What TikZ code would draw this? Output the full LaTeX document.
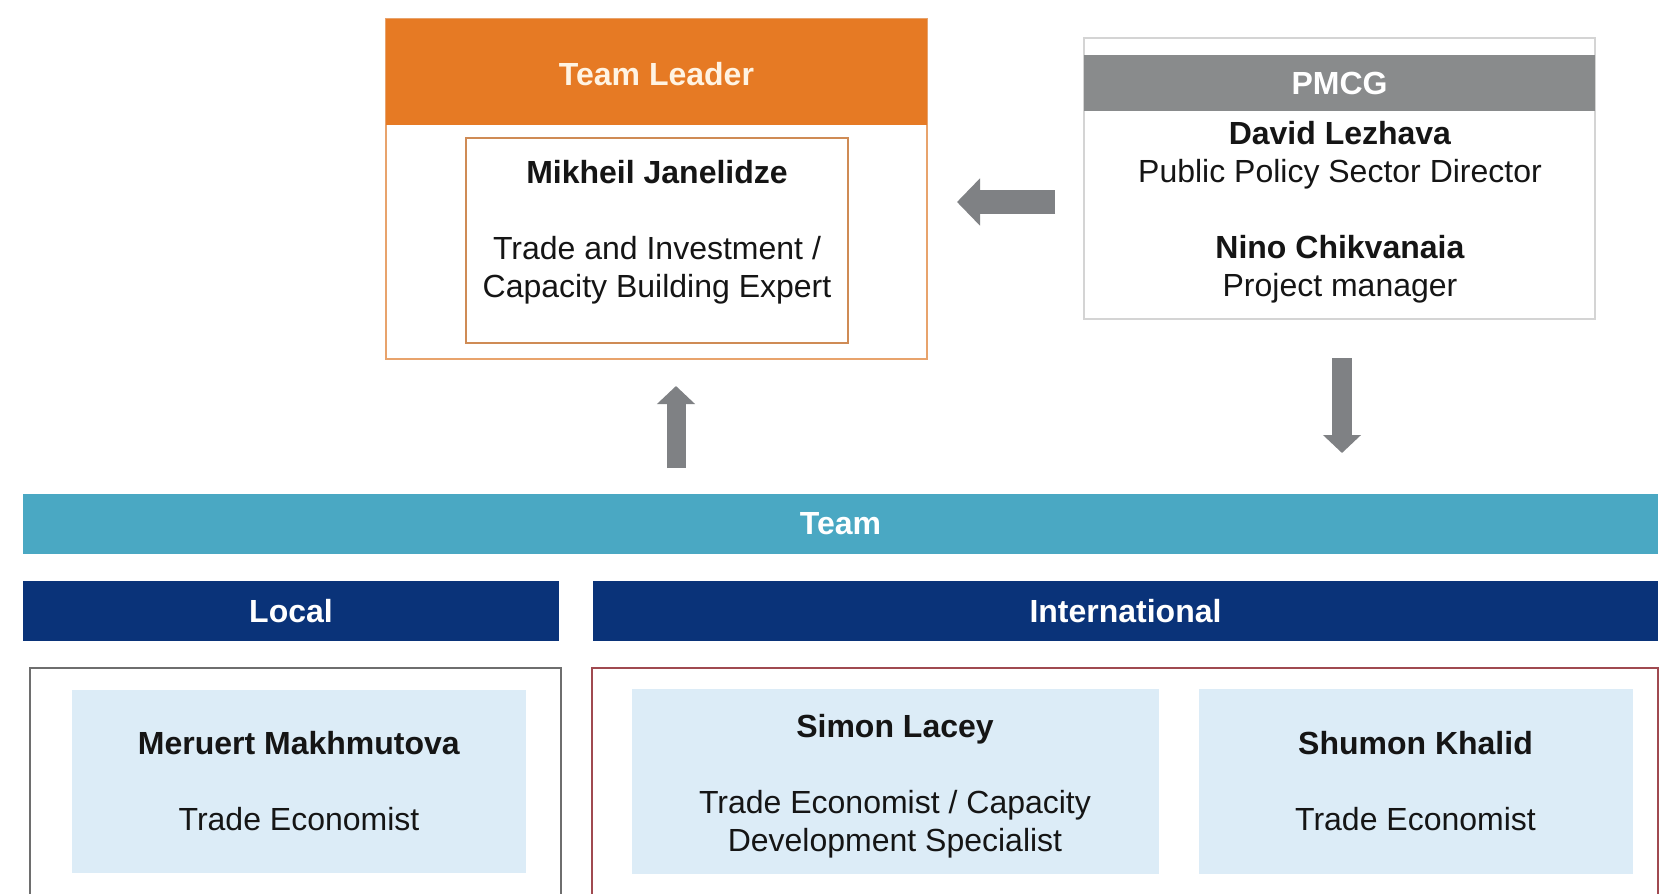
\documentclass[tikz,border=0pt]{standalone}
\usepackage{fontspec}
\setmainfont{Liberation Sans}
\usetikzlibrary{arrows.meta}
\definecolor{tlorange}{HTML}{E67A24}
\definecolor{tlcream}{HTML}{FFF3E2}
\definecolor{tlborder}{HTML}{E8A36C}
\definecolor{tlinner}{HTML}{CF8B55}
\definecolor{pmgrey}{HTML}{898B8C}
\definecolor{pmborder}{HTML}{D4D4D4}
\definecolor{arrowgrey}{HTML}{7F8184}
\definecolor{teamteal}{HTML}{4AA8C3}
\definecolor{navy}{HTML}{0A3379}
\definecolor{paleblue}{HTML}{DCECF7}
\definecolor{redborder}{HTML}{A04A50}
\definecolor{localborder}{HTML}{6E6E6E}
\definecolor{txt}{HTML}{151515}
\begin{document}
\begin{tikzpicture}[x=0.5pt,y=-0.5pt,
  every node/.style={inner sep=0pt,outer sep=0pt,font=\fontsize{16pt}{19pt}\selectfont,text=txt},
  box/.style={rectangle,align=center},
  header/.style={box,font=\fontsize{16pt}{19pt}\selectfont\bfseries},
  blockarrow/.style={draw=arrowgrey,line width=#1}
]
\clip (0,0) rectangle (1667,894);
\fill[white] (0,0) rectangle (1667,894);

% Team Leader block
\node[box,draw=tlborder,line width=0.9pt,minimum width=270.5pt,minimum height=170pt] (tlbox) at (656.5,189) {};
\node[header,fill=tlorange,minimum width=270.5pt,minimum height=53pt] (tlhead) at (656.5,72) {};
\node[header,text=tlcream] (tlheadtext) at (656.5,74) {Team Leader};
\node[box,draw=tlinner,line width=0.9pt,minimum width=191pt,minimum height=102.5pt] (tlinnerbox) at (657,240.5) {};
\node[box] (tltext) at (657,232) {\textbf{Mikheil Janelidze}\\[19pt]Trade and Investment /\\Capacity Building Expert};

% PMCG block
\node[box,draw=pmborder,line width=0.8pt,minimum width=255.5pt,minimum height=140.5pt] (pmbox) at (1339.5,178.5) {};
\node[header,fill=pmgrey,text=white,minimum width=255.5pt,minimum height=28pt] (pmhead) at (1339.5,83) {PMCG};
\node[box] (pmtext) at (1340,212) {\textbf{David Lezhava}\\Public Policy Sector Director\\[19pt]\textbf{Nino Chikvanaia}\\Project manager};

% arrows
\coordinate (la1) at (1055,202);
\coordinate (la2) at (957,202);
\coordinate (ua1) at (676,468);
\coordinate (ua2) at (676,386);
\coordinate (da1) at (1342,358);
\coordinate (da2) at (1342,453);
\draw[blockarrow=12pt,-{Triangle[length=11.5pt,width=23pt]},arrowgrey] (la1) -- (la2);
\draw[blockarrow=9.5pt,-{Triangle[length=9pt,width=18.5pt]},arrowgrey] (ua1) -- (ua2);
\draw[blockarrow=10pt,-{Triangle[length=9pt,width=18.5pt]},arrowgrey] (da1) -- (da2);

% Team bars
\node[header,fill=teamteal,text=white,minimum width=817.5pt,minimum height=30pt] (team) at (840.5,524) {Team};
\node[header,fill=navy,text=white,minimum width=268pt,minimum height=30pt] (local) at (291,611) {Local};
\node[header,fill=navy,text=white,minimum width=532.5pt,minimum height=30pt] (intl) at (1125.5,611) {International};

% bottom boxes
\node[box,draw=localborder,line width=0.9pt,minimum width=265.5pt,minimum height=130pt] (localbox) at (295.5,798) {};
\node[box,draw=redborder,line width=1pt,minimum width=533pt,minimum height=130pt] (intlbox) at (1124.5,798) {};
\node[box,fill=paleblue,minimum width=227pt,minimum height=91.5pt] (meruert) at (299,781) {\textbf{Meruert Makhmutova}\\[19pt]Trade Economist};
\node[box,fill=paleblue,minimum width=263.5pt,minimum height=92.5pt] (simon) at (895,781) {};
\node[box] (simontext) at (895,786) {\textbf{Simon Lacey}\\[19pt]Trade Economist / Capacity\\Development Specialist};
\node[box,fill=paleblue,minimum width=217pt,minimum height=92.5pt] (shumon) at (1415.5,781) {\textbf{Shumon Khalid}\\[19pt]Trade Economist};
\end{tikzpicture}
\end{document}
